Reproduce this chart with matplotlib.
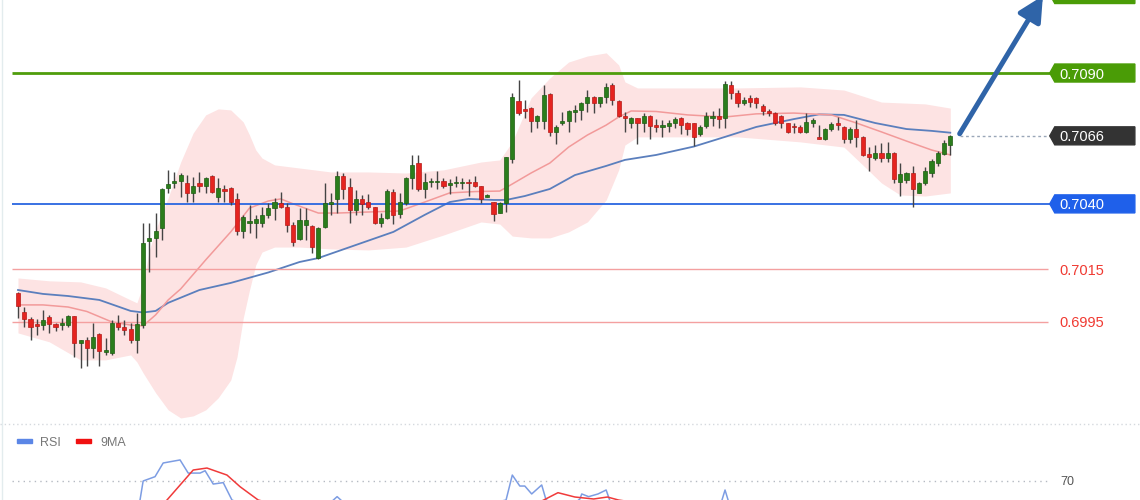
import numpy as np
import matplotlib.pyplot as plt
from matplotlib.patches import Polygon, Rectangle
from matplotlib.lines import Line2D

# candle data (150 bars)
opens = [0.70059, 0.69988, 0.69959, 0.69941, 0.69938, 0.69967, 0.69941, 0.69938, 0.69938, 0.69972,
         0.69870, 0.69880, 0.69849, 0.69902, 0.69836, 0.69829, 0.69946, 0.69931, 0.69921, 0.69880,
         0.69938, 0.70260, 0.70269, 0.70307, 0.70460, 0.70479, 0.70489, 0.70479, 0.70441, 0.70479,
         0.70469, 0.70507, 0.70428, 0.70456, 0.70460, 0.70418, 0.70298, 0.70328, 0.70326, 0.70326,
         0.70358, 0.70383, 0.70405, 0.70389, 0.70320, 0.70265, 0.70320, 0.70316, 0.70192, 0.70311,
         0.70400, 0.70418, 0.70507, 0.70466, 0.70377, 0.70418, 0.70409, 0.70387, 0.70328, 0.70345,
         0.70447, 0.70362, 0.70405, 0.70498, 0.70557, 0.70456, 0.70484, 0.70483, 0.70489, 0.70472,
         0.70479, 0.70479, 0.70484, 0.70485, 0.70469, 0.70428, 0.70409, 0.70367, 0.70402, 0.70570,
         0.70794, 0.70761, 0.70765, 0.70718, 0.70718, 0.70820, 0.70676, 0.70708, 0.70718, 0.70752,
         0.70759, 0.70787, 0.70807, 0.70787, 0.70807, 0.70854, 0.70794, 0.70736, 0.70708, 0.70727,
         0.70708, 0.70736, 0.70702, 0.70695, 0.70698, 0.70708, 0.70727, 0.70708, 0.70708, 0.70667,
         0.70698, 0.70727, 0.70736, 0.70727, 0.70854, 0.70825, 0.70787, 0.70804, 0.70804, 0.70774,
         0.70756, 0.70746, 0.70736, 0.70708, 0.70695, 0.70695, 0.70676, 0.70708, 0.70657, 0.70647,
         0.70685, 0.70708, 0.70695, 0.70647, 0.70685, 0.70657, 0.70591, 0.70574, 0.70596, 0.70574,
         0.70596, 0.70485, 0.70491, 0.70517, 0.70443, 0.70479, 0.70517, 0.70555, 0.70591, 0.70625]
highs = [0.70065, 0.70007, 0.69969, 0.69959, 0.69995, 0.69976, 0.69946, 0.69963, 0.69976, 0.69972,
         0.69880, 0.69893, 0.69944, 0.69906, 0.69887, 0.69957, 0.69976, 0.69957, 0.69944, 0.69982,
         0.70326, 0.70326, 0.70364, 0.70460, 0.70530, 0.70523, 0.70517, 0.70511, 0.70504, 0.70523,
         0.70504, 0.70511, 0.70498, 0.70472, 0.70466, 0.70441, 0.70358, 0.70396, 0.70358, 0.70389,
         0.70402, 0.70422, 0.70447, 0.70402, 0.70332, 0.70383, 0.70383, 0.70320, 0.70313, 0.70479,
         0.70441, 0.70527, 0.70517, 0.70498, 0.70453, 0.70434, 0.70438, 0.70389, 0.70364, 0.70456,
         0.70456, 0.70441, 0.70502, 0.70587, 0.70587, 0.70517, 0.70498, 0.70527, 0.70498, 0.70494,
         0.70507, 0.70498, 0.70494, 0.70507, 0.70469, 0.70437, 0.70409, 0.70409, 0.70580, 0.70823,
         0.70873, 0.70797, 0.70771, 0.70740, 0.70854, 0.70825, 0.70702, 0.70752, 0.70759, 0.70778,
         0.70791, 0.70835, 0.70812, 0.70810, 0.70863, 0.70863, 0.70797, 0.70752, 0.70733, 0.70727,
         0.70746, 0.70740, 0.70723, 0.70721, 0.70721, 0.70731, 0.70731, 0.70714, 0.70708, 0.70702,
         0.70752, 0.70756, 0.70765, 0.70871, 0.70871, 0.70835, 0.70807, 0.70816, 0.70807, 0.70782,
         0.70761, 0.70752, 0.70740, 0.70710, 0.70710, 0.70702, 0.70746, 0.70727, 0.70702, 0.70689,
         0.70714, 0.70733, 0.70698, 0.70695, 0.70721, 0.70659, 0.70619, 0.70625, 0.70632, 0.70638,
         0.70600, 0.70555, 0.70523, 0.70545, 0.70485, 0.70540, 0.70570, 0.70603, 0.70644, 0.70663]
lows = [0.69963, 0.69931, 0.69880, 0.69899, 0.69918, 0.69908, 0.69916, 0.69918, 0.69931, 0.69816,
        0.69772, 0.69781, 0.69810, 0.69781, 0.69823, 0.69823, 0.69918, 0.69899, 0.69870, 0.69829,
        0.69925, 0.70141, 0.70198, 0.70262, 0.70441, 0.70460, 0.70428, 0.70409, 0.70409, 0.70447,
        0.70441, 0.70441, 0.70409, 0.70409, 0.70396, 0.70281, 0.70269, 0.70288, 0.70269, 0.70313,
        0.70345, 0.70339, 0.70383, 0.70294, 0.70239, 0.70262, 0.70262, 0.70211, 0.70189, 0.70307,
        0.70358, 0.70367, 0.70418, 0.70328, 0.70358, 0.70358, 0.70380, 0.70323, 0.70311, 0.70341,
        0.70323, 0.70345, 0.70396, 0.70456, 0.70451, 0.70422, 0.70463, 0.70456, 0.70460, 0.70438,
        0.70463, 0.70456, 0.70430, 0.70463, 0.70402, 0.70425, 0.70336, 0.70364, 0.70370, 0.70557,
        0.70740, 0.70727, 0.70676, 0.70689, 0.70685, 0.70660, 0.70629, 0.70702, 0.70676, 0.70714,
        0.70721, 0.70752, 0.70749, 0.70771, 0.70787, 0.70778, 0.70733, 0.70676, 0.70689, 0.70629,
        0.70676, 0.70647, 0.70676, 0.70655, 0.70676, 0.70689, 0.70667, 0.70663, 0.70621, 0.70660,
        0.70689, 0.70698, 0.70689, 0.70689, 0.70800, 0.70771, 0.70778, 0.70771, 0.70765, 0.70740,
        0.70736, 0.70702, 0.70689, 0.70670, 0.70670, 0.70672, 0.70670, 0.70695, 0.70647, 0.70644,
        0.70680, 0.70682, 0.70634, 0.70632, 0.70619, 0.70583, 0.70527, 0.70568, 0.70561, 0.70561,
        0.70479, 0.70430, 0.70479, 0.70389, 0.70441, 0.70472, 0.70504, 0.70545, 0.70587, 0.70587]
closes = [0.70010, 0.69959, 0.69929, 0.69934, 0.69957, 0.69941, 0.69931, 0.69941, 0.69972, 0.69870,
          0.69880, 0.69849, 0.69891, 0.69839, 0.69842, 0.69946, 0.69929, 0.69918, 0.69880, 0.69940,
          0.70250, 0.70269, 0.70298, 0.70456, 0.70476, 0.70489, 0.70511, 0.70441, 0.70469, 0.70469,
          0.70498, 0.70447, 0.70460, 0.70451, 0.70409, 0.70298, 0.70349, 0.70332, 0.70341, 0.70358,
          0.70383, 0.70409, 0.70389, 0.70320, 0.70256, 0.70339, 0.70339, 0.70237, 0.70307, 0.70402,
          0.70409, 0.70507, 0.70456, 0.70377, 0.70418, 0.70400, 0.70387, 0.70328, 0.70345, 0.70451,
          0.70358, 0.70409, 0.70498, 0.70549, 0.70456, 0.70485, 0.70486, 0.70489, 0.70469, 0.70479,
          0.70481, 0.70481, 0.70479, 0.70469, 0.70418, 0.70430, 0.70362, 0.70402, 0.70578, 0.70807,
          0.70749, 0.70756, 0.70718, 0.70736, 0.70816, 0.70676, 0.70695, 0.70718, 0.70756, 0.70759,
          0.70787, 0.70807, 0.70787, 0.70807, 0.70848, 0.70797, 0.70736, 0.70727, 0.70727, 0.70708,
          0.70736, 0.70698, 0.70695, 0.70702, 0.70708, 0.70723, 0.70702, 0.70685, 0.70655, 0.70695,
          0.70736, 0.70736, 0.70723, 0.70858, 0.70825, 0.70787, 0.70797, 0.70791, 0.70784, 0.70756,
          0.70746, 0.70710, 0.70708, 0.70676, 0.70693, 0.70676, 0.70714, 0.70721, 0.70647, 0.70685,
          0.70705, 0.70702, 0.70647, 0.70685, 0.70657, 0.70587, 0.70578, 0.70596, 0.70574, 0.70596,
          0.70494, 0.70514, 0.70517, 0.70456, 0.70479, 0.70527, 0.70565, 0.70596, 0.70634, 0.70660]

# bollinger band (bar index, upper, lower)
band_idx = [0, 5, 10, 14, 18, 19, 20, 21, 22, 24, 26, 28, 30, 32, 34, 35, 36, 37, 38, 39, 41, 45, 50,
            56, 62, 68, 74, 77, 79, 82, 85, 88, 91, 94, 96, 97, 99, 105, 115, 125, 132, 135, 138,
            141, 145, 149]
band_upper = [0.70117, 0.70106, 0.70102, 0.70079, 0.70033, 0.70022, 0.70090, 0.70224, 0.70300,
              0.70423, 0.70560, 0.70671, 0.70740, 0.70763, 0.70759, 0.70736, 0.70713, 0.70663,
              0.70606, 0.70575, 0.70549, 0.70537, 0.70522, 0.70522, 0.70518, 0.70530, 0.70560,
              0.70568, 0.70637, 0.70805, 0.70881, 0.70942, 0.70965, 0.70977, 0.70931, 0.70866,
              0.70843, 0.70843, 0.70843, 0.70847, 0.70835, 0.70812, 0.70789, 0.70786, 0.70782,
              0.70766]
band_lower = [0.69907, 0.69873, 0.69804, 0.69804, 0.69823, 0.69796, 0.69754, 0.69716, 0.69678,
              0.69613, 0.69582, 0.69590, 0.69613, 0.69659, 0.69727, 0.69815, 0.69964, 0.70071,
              0.70167, 0.70216, 0.70235, 0.70235, 0.70228, 0.70224, 0.70235, 0.70281, 0.70331,
              0.70323, 0.70277, 0.70270, 0.70270, 0.70293, 0.70331, 0.70415, 0.70530, 0.70625,
              0.70656, 0.70656, 0.70656, 0.70637, 0.70617, 0.70549, 0.70480, 0.70434, 0.70430,
              0.70442]

# moving averages
slow_idx = [0, 4, 8, 13, 18, 20, 22, 24, 29, 34, 40, 45, 48, 54, 60, 65, 69, 72, 76, 78, 81, 85,
            89, 94, 97, 102, 108, 113, 118, 124, 128, 132, 137, 142, 146, 149]
slow_ma = [0.70071, 0.70056, 0.70048, 0.70033, 0.69991, 0.69985, 0.69991, 0.70022, 0.70071, 0.70098,
           0.70138, 0.70178, 0.70193, 0.70243, 0.70293, 0.70358, 0.70407, 0.70419, 0.70415, 0.70415,
           0.70430, 0.70457, 0.70510, 0.70545, 0.70568, 0.70587, 0.70619, 0.70656, 0.70694, 0.70724,
           0.70742, 0.70740, 0.70709, 0.70686, 0.70679, 0.70672]
fast_idx = [0, 4, 8, 11, 15, 18, 20, 22, 24, 26, 30, 34, 37, 40, 42, 44, 48, 51, 56, 61, 65, 69,
            73, 77, 79, 82, 85, 88, 91, 94, 96, 98, 102, 107, 113, 118, 124, 130, 134, 138, 142,
            146, 149]
fast_ma = [0.70014, 0.70014, 0.70006, 0.69989, 0.69949, 0.69937, 0.69934, 0.69976, 0.70033, 0.70075,
           0.70186, 0.70293, 0.70384, 0.70411, 0.70419, 0.70400, 0.70365, 0.70365, 0.70369, 0.70373,
           0.70407, 0.70442, 0.70447, 0.70449, 0.70476, 0.70518, 0.70556, 0.70617, 0.70663, 0.70701,
           0.70732, 0.70755, 0.70753, 0.70740, 0.70732, 0.70744, 0.70747, 0.70740, 0.70709, 0.70675,
           0.70640, 0.70606, 0.70587]

# key levels
resistances = [0.7120, 0.7090]
supports = [0.7040, 0.7015, 0.6995]
last_price = 0.7066

# RSI pane
rsi_idx = [0, 10, 18, 19.5, 20, 21.9, 23.2, 25.9, 27.2, 29.1, 29.9, 31.2, 32.8, 34.2, 40, 49, 51, 53,
           65, 78, 79, 80.2, 81, 82.1, 83.7, 84.4, 88, 89.8, 90.1, 91.2, 92.7, 94, 94.8, 105, 112.3,
           113, 113.7, 130, 149]
rsi_vals = [50, 45, 52, 59.4, 70, 72.4, 80, 81.7, 74.4, 74.4, 75.7, 68.3, 69.1, 59.4, 52, 55, 61.3, 55,
            50, 59.4, 73.3, 67.2, 67.2, 62.8, 67.8, 59.4, 55, 60, 62.8, 61.3, 62.8, 65, 57, 52, 57,
            65, 57, 50, 56]
rsi_ma_idx = [0, 15, 22, 23.8, 28, 30.2, 33.4, 35.5, 38.4, 45, 60, 75, 82, 84, 86.3, 89, 92, 94.2,
              96, 105, 149]
rsi_ma_vals = [48, 45, 52, 59.4, 76.1, 77.2, 73.3, 66.8, 59.4, 54, 52, 52, 56, 59.4, 63.5, 61.1, 60,
               61.1, 59.4, 55, 52]

plt.rcParams['font.family'] = ['Liberation Sans', 'DejaVu Sans']

fig = plt.figure(figsize=(11.4, 5), dpi=100)
fig.patch.set_facecolor('white')

x_lim = (-2.877, 179.32)
ax = fig.add_axes([0, 0.152, 1, 0.848])
ax.set_xlim(*x_lim)
ax.set_ylim(0.69559, 0.71179)
ax.set_axis_off()

# band + averages
ax.fill_between(band_idx, band_lower, band_upper, color='#fde3e3', lw=0, zorder=1)
ax.plot(slow_idx, slow_ma, color='#5b7fbd', lw=1.3, zorder=2)
ax.plot(fast_idx, fast_ma, color='#f29a9a', lw=1.1, zorder=2)

# level lines
ax.hlines(resistances[1], -0.96, 165.0, color='#4f9d0c', lw=2, zorder=2)
ax.hlines(supports[0], -0.96, 165.0, color='#2a66e0', lw=1.3, zorder=2)
ax.hlines(supports[1:], -0.96, 164.6, color='#f4a0a0', lw=1, zorder=2)
ax.hlines(last_price, 150.6, 165.0, color='#9aa7b8', lw=1, linestyles=(0, (2, 2)), zorder=2)

# candles
x = np.arange(len(closes))
o = np.array(opens)
c = np.array(closes)
up = c >= o
ax.vlines(x, lows, highs, color='#444444', lw=1, zorder=3)
bottom = np.minimum(o, c)
height = np.maximum(np.abs(c - o), 0.00005)
ax.bar(x, height, 0.66, bottom=bottom, color=np.where(up, '#2b7d1c', '#e52420'),
       edgecolor=np.where(up, '#1d5c12', '#b51a18'), lw=0.5, zorder=4)


def tag(y, color, text=None):
    h = 0.000344
    pts = [(164.9, y), (165.7, y + h), (178.5, y + h), (178.5, y - h), (165.7, y - h)]
    ax.add_patch(Polygon(pts, closed=True, fc=color, ec=color, zorder=6, clip_on=False))
    if text:
        ax.text(166.5, y, text, color='white', fontsize=10.5, va='center_baseline', ha='left', zorder=7)


tag(resistances[0], '#4a9c06')
tag(resistances[1], '#4a9c06', '%.4f' % resistances[1])
tag(last_price, '#333333', '%.4f' % last_price)
tag(supports[0], '#1f60ea', '%.4f' % supports[0])
for s in supports[1:]:
    ax.text(166.5, s, '%.4f' % s, color='#f03a32', fontsize=10.5, va='center_baseline', ha='left')

# forecast arrow
ax.annotate('', xy=(163.8, 0.71195), xytext=(150.5, 0.70668),
            arrowprops=dict(arrowstyle='-|>,head_length=0.75,head_width=0.38', lw=3.6,
                            color='#2f64a8', shrinkA=0, shrinkB=0, mutation_scale=20),
            annotation_clip=False, zorder=8)

# RSI pane
ax2 = fig.add_axes([0, 0, 1, 0.152])
ax2.set_xlim(*x_lim)
ax2.set_ylim(59.44, 101.67)
ax2.set_axis_off()
ax2.hlines(70, -0.96, 164.6, color='#b5bac2', lw=1, linestyles=(0, (1, 3)))
ax2.text(166.6, 70, '70', color='#555555', fontsize=9, va='center_baseline', ha='left')
ax2.plot(rsi_idx, rsi_vals, color='#7d9de3', lw=1.1)
ax2.plot(rsi_ma_idx, rsi_ma_vals, color='#f03a3a', lw=1.1)

# legend + separators
fig.add_artist(Rectangle((17 / 1140, 57 / 500), 15 / 1140, 4 / 500, transform=fig.transFigure,
                         color='#5b86e6'))
fig.text(40 / 1140, 59 / 500, 'RSI', color='#777777', fontsize=9, va='center_baseline')
fig.add_artist(Rectangle((76 / 1140, 57 / 500), 15 / 1140, 4 / 500, transform=fig.transFigure,
                         color='#f01010'))
fig.text(100 / 1140, 59 / 500, '9MA', color='#777777', fontsize=9, va='center_baseline')
fig.add_artist(Line2D([0, 1], [76 / 500, 76 / 500], transform=fig.transFigure, color='#d5d9de',
                      lw=1, ls=(0, (1, 2))))
fig.add_artist(Line2D([1.5 / 1140, 1.5 / 1140], [0, 1], transform=fig.transFigure, color='#e3ecee',
                      lw=1))

fig.savefig('out.png', dpi=100)
